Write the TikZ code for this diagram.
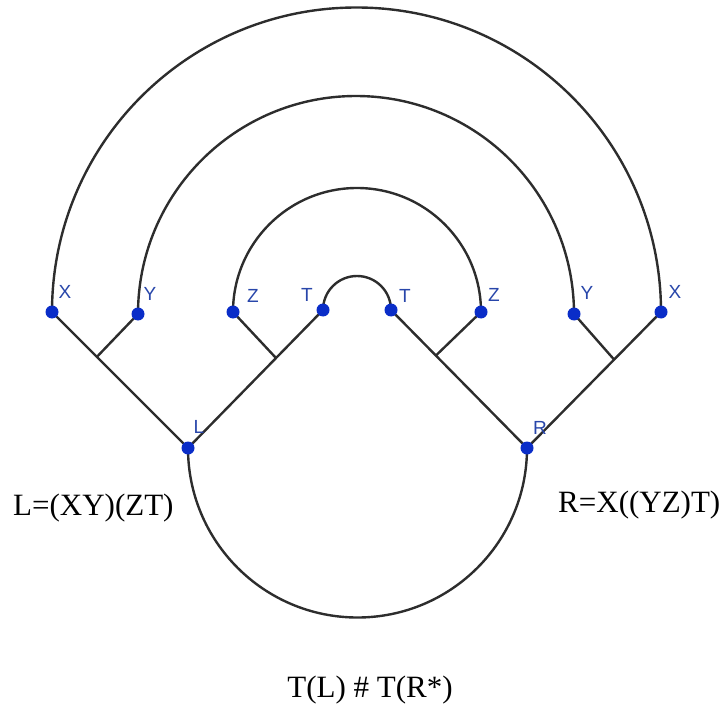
\documentclass[tikz,border=0pt]{standalone}
\usepackage{fontspec}
\setmainfont{Liberation Serif}
\newfontfamily\labfont{Liberation Sans}
\usetikzlibrary{calc}
\definecolor{dotblue}{RGB}{10,45,200}
\definecolor{labblue}{RGB}{40,70,170}
\definecolor{wiregray}{RGB}{45,45,45}
\tikzset{
  bluedot/.style={circle, fill=dotblue, inner sep=0pt, minimum size=13pt},
  ptlabel/.style={text=labblue, font=\labfont\fontsize{19}{19}\selectfont, inner sep=0pt},
  formula/.style={font=\fontsize{31}{36}\selectfont, inner sep=0pt},
  wire/.style={line width=2.4pt, draw=wiregray}
}
\begin{document}
\begin{tikzpicture}[x=1pt,y=1pt]
        \useasboundingbox (0,0) rectangle (725,-711);

        % Ends of the strands and the two roots
        \coordinate (xl) at (52,-312);
        \coordinate (yl) at (138,-314);
        \coordinate (zl) at (233,-312);
        \coordinate (tl) at (323,-310);
        \coordinate (tr) at (391,-310);
        \coordinate (zr) at (481,-312);
        \coordinate (yr) at (574,-314);
        \coordinate (xr) at (661,-312);
        \coordinate (L) at (188,-448);
        \coordinate (R) at (527,-448);

        % Inner vertices of both trees
        \coordinate (jxy) at ($(xl)!0.33!(L)$);
        \coordinate (jzt) at ($(tl)!0.348!(L)$);
        \coordinate (jyz) at ($(tr)!0.33!(R)$);
        \coordinate (jx) at ($(xr)!0.35!(R)$);

        % Tree of L
        \draw[wire] (xl) -- (L);
        \draw[wire] (yl) -- (jxy);
        \draw[wire] (tl) -- (L);
        \draw[wire] (zl) -- (jzt);

        % Tree of R
        \draw[wire] (tr) -- (R);
        \draw[wire] (zr) -- (jyz);
        \draw[wire] (xr) -- (R);
        \draw[wire] (yr) -- (jx);

        % Arcs joining the leaves, and the roots below
        \draw[wire] (xl) arc[start angle=180, end angle=0, radius=304.5];
        \draw[wire] (yl) arc[start angle=180, end angle=0, radius=218];
        \draw[wire] (zl) arc[start angle=180, end angle=0, radius=124];
        \draw[wire] (tl) arc[start angle=180, end angle=0, radius=34];
        \draw[wire] (L) arc[start angle=180, end angle=360, radius=169.5];

        % Dots
        \node[bluedot] (xl dot) at (xl) {};
        \node[bluedot] (yl dot) at (yl) {};
        \node[bluedot] (zl dot) at (zl) {};
        \node[bluedot] (tl dot) at (tl) {};
        \node[bluedot] (tr dot) at (tr) {};
        \node[bluedot] (zr dot) at (zr) {};
        \node[bluedot] (yr dot) at (yr) {};
        \node[bluedot] (xr dot) at (xr) {};
        \node[bluedot] (L dot) at (L) {};
        \node[bluedot] (R dot) at (R) {};

        % Letters next to the dots
        \node[ptlabel] (xl lab) at (65,-292) {X};
        \node[ptlabel] (yl lab) at (150,-294) {Y};
        \node[ptlabel] (zl lab) at (253,-296) {Z};
        \node[ptlabel] (tl lab) at (307,-295) {T};
        \node[ptlabel] (tr lab) at (405,-296) {T};
        \node[ptlabel] (zr lab) at (494,-295) {Z};
        \node[ptlabel] (yr lab) at (587,-293) {Y};
        \node[ptlabel] (xr lab) at (675,-292) {X};
        \node[ptlabel] (L lab) at (199,-427) {L};
        \node[ptlabel] (R lab) at (540,-428) {R};

        % Bracketings
        \node[formula, anchor=base west] (Lform) at (13,-515) {L=(XY)(ZT)};
        \node[formula, anchor=base west] (Rform) at (558,-512) {R=X((YZ)T)};
        \node[formula, anchor=base] (conn) at (370,-697) {T(L) \# T(R*)};
\end{tikzpicture}
\end{document}
